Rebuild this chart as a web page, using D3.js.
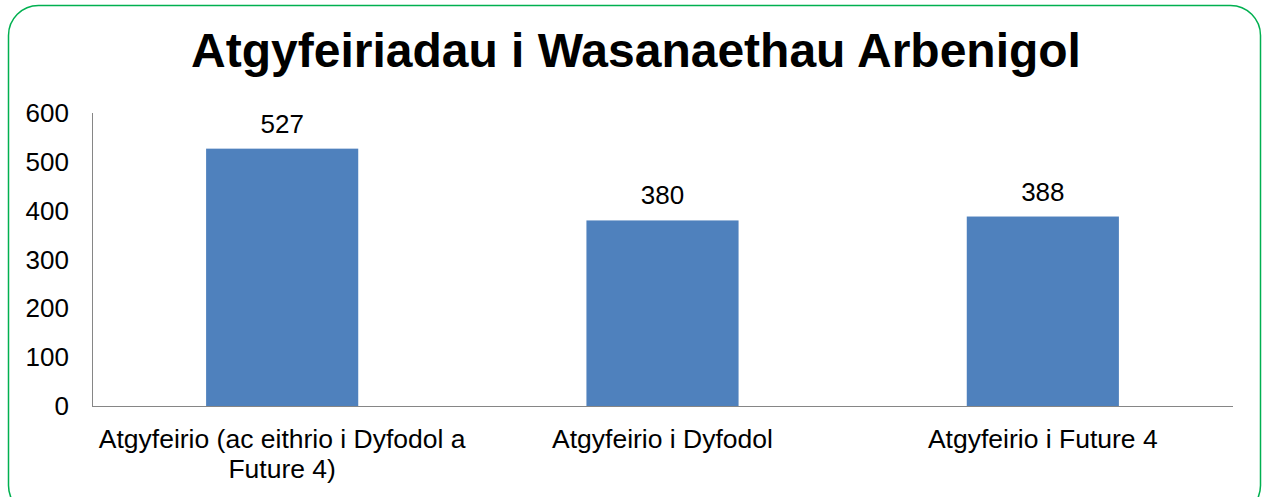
<!DOCTYPE html>
<html>
<head>
<meta charset="utf-8">
<script src="https://cdn.jsdelivr.net/npm/d3@7"></script>
<style>
  body { margin: 0; background: #fff; }
  text { font-family: "Liberation Sans", Arial, sans-serif; fill: #000; }
</style>
</head>
<body>
<div id="chart"></div>
<script>
// chart data
var categories = [["Atgyfeirio (ac eithrio i Dyfodol a", "Future 4)"], ["Atgyfeirio i Dyfodol"], ["Atgyfeirio i Future 4"]];
var values = [527, 380, 388];
var yTicks = [0, 100, 200, 300, 400, 500, 600];
var title = "Atgyfeiriadau i Wasanaethau Arbenigol";

var width = 1262, height = 497;
var margin = {top: 113, left: 92, bottom: 91, right: 29};

var svg = d3.select("#chart").append("svg")
    .attr("width", width)
    .attr("height", height);

// green rounded frame
svg.append("rect")
    .attr("x", 8.5).attr("y", 5.5)
    .attr("width", 1252).attr("height", 510)
    .attr("rx", 30).attr("ry", 30)
    .attr("fill", "none")
    .attr("stroke", "#00b050")
    .attr("stroke-width", 1.5);

svg.append("text")
    .attr("x", 636).attr("y", 67)
    .attr("text-anchor", "middle")
    .style("font-size", "48px")
    .style("font-weight", "bold")
    .text(title);

var x = d3.scaleBand()
    .domain(d3.range(values.length))
    .range([margin.left, width - margin.right])
    .paddingInner(0.6)
    .paddingOuter(0.3);

var y = d3.scaleLinear()
    .domain([0, 600])
    .range([height - margin.bottom, margin.top]);

// y tick labels
svg.append("g").selectAll("text")
    .data(yTicks)
    .join("text")
    .attr("x", 69)
    .attr("y", function (d) { return y(d); })
    .attr("dy", "0.35em")
    .attr("text-anchor", "end")
    .style("font-size", "26px")
    .text(function (d) { return d; });

// bars
svg.append("g").selectAll("rect")
    .data(values)
    .join("rect")
    .attr("x", function (d, i) { return x(i); })
    .attr("y", function (d) { return y(d); })
    .attr("width", x.bandwidth())
    .attr("height", function (d) { return y(0) - y(d); })
    .attr("fill", "#4f81bd");

// value labels
svg.append("g").selectAll("text")
    .data(values)
    .join("text")
    .attr("x", function (d, i) { return x(i) + x.bandwidth() / 2; })
    .attr("y", function (d) { return y(d) - 16; })
    .attr("text-anchor", "middle")
    .style("font-size", "26px")
    .text(function (d) { return d; });

// axis lines
svg.append("line")
    .attr("x1", margin.left + 0.5).attr("x2", margin.left + 0.5)
    .attr("y1", margin.top).attr("y2", y(0))
    .attr("stroke", "#868686");
svg.append("line")
    .attr("x1", margin.left).attr("x2", width - margin.right)
    .attr("y1", y(0) + 0.5).attr("y2", y(0) + 0.5)
    .attr("stroke", "#868686");

// category labels
var cat = svg.append("g").selectAll("text")
    .data(categories)
    .join("text")
    .attr("x", function (d, i) { return x(i) + x.bandwidth() / 2; })
    .attr("y", 448)
    .attr("text-anchor", "middle")
    .style("font-size", "26.5px");
cat.selectAll("tspan")
    .data(function (d) { return d; })
    .join("tspan")
    .attr("x", function () { return d3.select(this.parentNode).attr("x"); })
    .attr("dy", function (d, i) { return i ? 30 : 0; })
    .text(function (d) { return d; });
</script>
</body>
</html>
